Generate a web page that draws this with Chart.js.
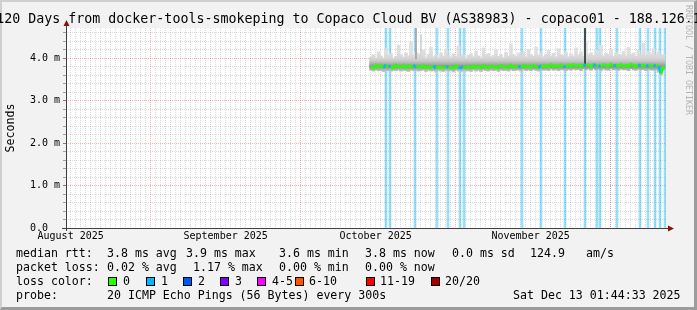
<!DOCTYPE html>
<html>
<head>
<meta charset="utf-8">
<script src="https://cdn.jsdelivr.net/npm/chart.js@4.4.1/dist/chart.umd.min.js"></script>
<style>
html,body{margin:0;padding:0;width:697px;height:310px;overflow:hidden;background:#f2f2f2}
#frame{position:absolute;left:0;top:0;width:697px;height:310px;box-sizing:border-box;border-style:solid;border-width:2px 3px 3px 2px;border-color:#cfcfcf #9c9c9c #9c9c9c #cfcfcf;background:#f2f2f2}
canvas{position:absolute;left:0;top:0}
.t{position:absolute;white-space:pre;font-family:'DejaVu Sans Mono',monospace;line-height:1;color:#000}
#title{font-size:13.3px;top:12px;left:50%;transform:translateX(-50%)}
#wm{position:absolute;writing-mode:vertical-rl;font-family:'DejaVu Sans Mono',monospace;font-size:8.3px;line-height:1;color:#b4b4b4;left:685px;top:5px;white-space:pre}
.f{font-size:11.6px}
.box{position:absolute;width:7px;height:7px;border:1px solid #000}
</style>
</head>
<body>
<div id="frame"></div>
<canvas id="c" width="697" height="310"></canvas>
<div id="title" class="t">120 Days from docker-tools-smokeping to Copaco Cloud BV (AS38983) - copaco01 - 188.126.1</div>
<div id="wm">RRDTOOL / TOBI OETIKER</div>
<div id="footer"></div>
<script>
// ---- data (x in days since Aug 15 2025 01:44:33) ----
const startDay = 61.0;
const stepDay = 0.5;
const medianRtt = [
 3.80,3.76,3.84,3.78,3.83,3.77,3.85,3.79,3.82,3.76,3.84,3.80,3.78,3.83,3.77,3.82,3.79,3.84,3.77,3.81,
 3.78,3.83,3.76,3.80,3.77,3.82,3.75,3.80,3.78,3.76,3.81,3.77,3.79,3.75,3.82,3.78,3.76,3.81,3.77,3.80,
 3.76,3.82,3.78,3.80,3.76,3.83,3.79,3.77,3.82,3.78,3.80,3.76,3.83,3.79,3.81,3.77,3.84,3.78,3.80,3.82,
 3.77,3.83,3.79,3.81,3.78,3.84,3.80,3.77,3.83,3.79,3.82,3.78,3.85,3.80,3.83,3.79,3.84,3.81,3.78,3.84,
 3.80,3.85,3.81,3.83,3.79,3.86,3.82,3.84,3.80,3.86,3.81,3.83,3.79,3.85,3.82,3.80,3.86,3.81,3.84,3.80,
 3.85,3.81,3.83,3.79,3.86,3.82,3.80,3.85,3.81,3.84,3.79,3.85,3.82,3.80,3.84,3.81,3.62,3.82
];
const smokeLow = [
 3.71,3.69,3.72,3.70,3.71,3.68,3.72,3.70,3.69,3.71,3.70,3.72,3.69,3.71,3.70,3.68,3.72,3.70,3.71,3.69,
 3.70,3.72,3.68,3.71,3.69,3.70,3.67,3.71,3.69,3.68,3.71,3.69,3.70,3.67,3.72,3.69,3.68,3.71,3.69,3.70,
 3.68,3.72,3.69,3.71,3.68,3.72,3.70,3.69,3.72,3.70,3.71,3.68,3.72,3.70,3.71,3.69,3.73,3.70,3.71,3.72,
 3.69,3.73,3.70,3.72,3.70,3.73,3.71,3.69,3.73,3.71,3.72,3.70,3.74,3.71,3.73,3.70,3.73,3.72,3.70,3.73,
 3.71,3.74,3.72,3.73,3.70,3.75,3.72,3.74,3.71,3.75,3.72,3.73,3.70,3.74,3.72,3.71,3.75,3.72,3.73,3.71,
 3.74,3.72,3.73,3.70,3.75,3.72,3.71,3.74,3.72,3.73,3.70,3.74,3.72,3.71,3.73,3.66,3.58,3.72
];
const smokeHigh = [
 4.02,4.08,3.98,4.15,4.05,4.00,4.22,4.06,4.10,3.99,4.04,4.30,4.08,4.02,4.12,4.05,4.38,4.07,4.14,4.10,
 4.05,4.18,4.00,4.09,4.25,4.03,4.07,3.99,4.12,4.04,4.20,4.06,4.01,4.10,4.03,4.28,4.05,4.08,3.99,4.06,
 4.10,4.03,4.16,4.05,4.00,4.24,4.07,4.11,4.02,4.06,4.19,4.04,4.09,4.01,4.14,4.05,4.33,4.08,4.03,4.12,
 4.06,4.15,4.02,4.20,4.08,4.04,4.26,4.07,4.12,4.03,4.09,4.18,4.05,4.11,4.02,4.22,4.08,4.06,4.14,4.03,
 4.10,4.05,4.24,4.08,4.15,4.04,4.40,4.09,4.12,4.06,4.19,4.07,4.30,4.05,4.11,4.08,4.21,4.04,4.13,4.09,
 4.07,4.16,4.05,4.25,4.09,4.12,4.04,4.18,4.08,4.35,4.06,4.14,4.10,4.22,4.07,4.15,4.05,4.08
];
const lossDays = [64.0,64.8,69.8,74.2,76.4,78.8,79.6,91.2,95.0,99.8,103.8,106.2,106.8,110.2,114.8,116.4,117.8,118.8,119.8];
const lossPings = [1,1,1,1,1,1,1,1,1,1,1,1,1,1,1,1,1,1,1];
const outlierDays = [70.0, 71.0, 103.8];
const outlierLow = [3.98, 4.02, 3.86];
const outlierHigh = [4.75, 4.55, 4.75];
const monthLabels = ['August 2025','September 2025','October 2025','November 2025'];
const monthLabelDays = [0.93, 31.93, 61.93, 92.93];
const monthStartDays = [16.93, 46.93, 77.93, 108.8];
const yMajorValues = [0,1,2,3,4];
const yTickLabels = ['0.0  ','1.0 m','2.0 m','3.0 m','4.0 m'];
const yMax = 4.706;
const xMax = 120;

const statLabels = ['median rtt:','packet loss:','loss color:','probe:'];
const rttStats = ['3.8 ms avg','3.9 ms max','3.6 ms min','3.8 ms now','0.0 ms sd','124.9','am/s'];
const lossStats = ['0.02 % avg','1.17 % max','0.00 % min','0.00 % now'];
const lossLegend = ['0','1','2','3','4-5','6-10','11-19','20/20'];
const probeText = '20 ICMP Echo Pings (56 Bytes) every 300s';
const dateText = 'Sat Dec 13 01:44:33 2025';

// ---- styles / layout ----
const lossColors = ['#26ff00','#00b8ff','#0059ff','#7e00ff','#ff00ff','#ff5500','#ff0000','#a00000'];
const lossBg = ['rgba(0,0,0,0)','rgba(0,174,240,0.40)'];
const outlierColors = ['#a4a4a4','#d2d2d2','#303030'];
const L = {
  rowTop:[247.5,262,276,289.5], labelX:16,
  rttX:[107,186,279,365,452,530,586], lossX:[107,193,279,365],
  boxX:[108,146,183,220,257,295,366,431], boxLabelX:[123,161,198,235,272,309,380,445],
  boxTop:277, probeX:107, dateX:513
};

// footer text
const footer = document.getElementById('footer');
function addText(txt, x, y){ const d=document.createElement('div'); d.className='t f'; d.textContent=txt; d.style.left=x+'px'; d.style.top=y+'px'; footer.appendChild(d); }
statLabels.forEach((s,i)=>addText(s, L.labelX, L.rowTop[i]));
rttStats.forEach((s,i)=>addText(s, L.rttX[i], L.rowTop[0]));
lossStats.forEach((s,i)=>addText(s, L.lossX[i], L.rowTop[1]));
lossLegend.forEach((s,i)=>{
  const b=document.createElement('div'); b.className='box'; b.style.left=L.boxX[i]+'px'; b.style.top=L.boxTop+'px'; b.style.background=lossColors[i]; footer.appendChild(b);
  addText(s, L.boxLabelX[i], L.rowTop[2]);
});
addText(probeText, L.probeX, L.rowTop[3]);
addText(dateText, L.dateX, L.rowTop[3]);

// ---- chart ----
const sampleDays = medianRtt.map((v,i)=>startDay + i*stepDay);
const near = (a,b)=>Math.abs(a-b)<1e-6;
// sample index closest to each loss time
const lossSample = new Set(lossDays.map(d=>Math.round((d-startDay)/stepDay)));

function smokeFill(c){
  const ch=c.chart; if(!ch.chartArea) return '#c8c8c8';
  const y=ch.scales.y, v0=3.55, v1=4.7;
  const g=ch.ctx.createLinearGradient(0,y.getPixelForValue(v0),0,y.getPixelForValue(v1));
  [[3.55,'#d6d6d6'],[3.67,'#cacaca'],[3.74,'#acacac'],[3.80,'#909090'],[3.86,'#acacac'],[3.93,'#c8c8c8'],[4.00,'#d6d6d6'],[4.12,'#dedede'],[4.70,'#e3e3e3']]
    .forEach(([v,col])=>g.addColorStop((v-v0)/(v1-v0),col));
  return g;
}

const xTicks = [];
for(let k=0;k<120;k++){ const v=+(0.93+k).toFixed(2); if(v<xMax) xTicks.push(v); }
monthStartDays.forEach(m=>{ if(!xTicks.some(v=>near(v,m))) xTicks.push(m); });
xTicks.sort((a,b)=>a-b);
const yTicks = [];
for(let k=0;k*0.2<yMax;k++) yTicks.push(Math.round(k*2)/10);

const monoFont = {family:"'DejaVu Sans Mono', monospace", size:10};
const minorGrid = 'rgba(0,0,0,0.14)', majorGrid = 'rgba(235,0,0,0.30)';

const bgPlugin = { id:'plotbg', beforeDraw(ch){ const {ctx,chartArea:a}=ch; ctx.save(); ctx.fillStyle='#ffffff'; ctx.fillRect(a.left,a.top,a.right-a.left,a.bottom-a.top); ctx.restore(); } };
const axesPlugin = { id:'axes', afterDraw(ch){
  const {ctx,chartArea:a}=ch; ctx.save();
  ctx.strokeStyle='#404040'; ctx.lineWidth=1; ctx.beginPath();
  ctx.moveTo(a.left+0.5,a.bottom+3); ctx.lineTo(a.left+0.5,a.top-5);
  ctx.moveTo(a.left-4,a.bottom+0.5); ctx.lineTo(a.right+5,a.bottom+0.5); ctx.stroke();
  ctx.fillStyle='#8b1010';
  ctx.beginPath(); ctx.moveTo(a.left+0.5,a.top-8); ctx.lineTo(a.left-2.5,a.top-2); ctx.lineTo(a.left+3.5,a.top-2); ctx.closePath(); ctx.fill();
  ctx.beginPath(); ctx.moveTo(a.right+8,a.bottom+0.5); ctx.lineTo(a.right+2,a.bottom-2.5); ctx.lineTo(a.right+2,a.bottom+3.5); ctx.closePath(); ctx.fill();
  ctx.restore(); } };

new Chart(document.getElementById('c'), {
  type:'bar',
  data:{ datasets:[
    { type:'bar', order:5, grouped:false, barThickness:2,
      data: lossDays.map((d,i)=>({x:d, y:[0,yMax]})),
      backgroundColor: lossPings.map(p=>lossBg[Math.min(p,1)]) },
    { type:'bar', order:4, grouped:false, barThickness:3,
      data: sampleDays.map((d,i)=>({x:d, y:[smokeLow[i], smokeHigh[i]]})),
      backgroundColor: smokeFill },
    { type:'bar', order:3, grouped:false, barThickness:1,
      data: outlierDays.map((d,i)=>({x:d, y:[outlierLow[i], outlierHigh[i]]})),
      backgroundColor: outlierColors },
    { type:'line', order:1, data: sampleDays.map((d,i)=>({x:d, y:medianRtt[i]})),
      borderColor: lossColors[0], borderWidth:2.5, pointRadius:0, tension:0,
      segment:{ borderColor: c => lossSample.has(c.p1DataIndex) ? lossColors[1] : lossColors[0] } }
  ]},
  options:{
    responsive:false, animation:false, devicePixelRatio:1,
    layout:{ padding:{ top:28, right:31, bottom:66, left:0 } },
    plugins:{ legend:{display:false}, tooltip:{enabled:false}, title:{display:false} },
    scales:{
      x:{ type:'linear', min:0, max:xMax, offset:false,
        afterBuildTicks: s=>{ s.ticks = xTicks.map(v=>({value:v})); },
        afterFit: s=>{ s.height = 16; },
        grid:{ offset:false, drawTicks:false, lineWidth:1,
          color: c => (c.tick && monthStartDays.some(m=>near(m,c.tick.value))) ? majorGrid : minorGrid },
        border:{ display:false, dash:[1,1] },
        ticks:{ autoSkip:false, maxRotation:0, minRotation:0, padding:2, color:'#000', font:monoFont,
          callback: v => { const i = monthLabelDays.findIndex(m=>near(m,v)); return i>=0 ? monthLabels[i] : ''; } } },
      y:{ type:'linear', min:0, max:yMax,
        afterBuildTicks: s=>{ s.ticks = yTicks.map(v=>({value:v})); },
        afterFit: s=>{ s.width = 66; },
        grid:{ drawTicks:true, tickLength:3, tickBorderDash:[], lineWidth:1,
          color: c => (c.tick && yMajorValues.some(m=>near(m,c.tick.value))) ? majorGrid : minorGrid,
          tickColor: c => (c.tick && yMajorValues.some(m=>near(m,c.tick.value))) ? '#c06060' : '#a0a0a0' },
        border:{ display:false, dash:[1,1] },
        title:{ display:true, text:'Seconds', color:'#000', padding:{top:4,bottom:0},
          font:{family:"'DejaVu Sans Mono', monospace", size:11.6} },
        ticks:{ autoSkip:false, padding:3, color:'#000', font:monoFont,
          callback: v => { const i = yMajorValues.findIndex(m=>near(m,v)); return i>=0 ? yTickLabels[i] : ''; } } }
    }
  },
  plugins:[bgPlugin, axesPlugin]
});
</script>
</body>
</html>
